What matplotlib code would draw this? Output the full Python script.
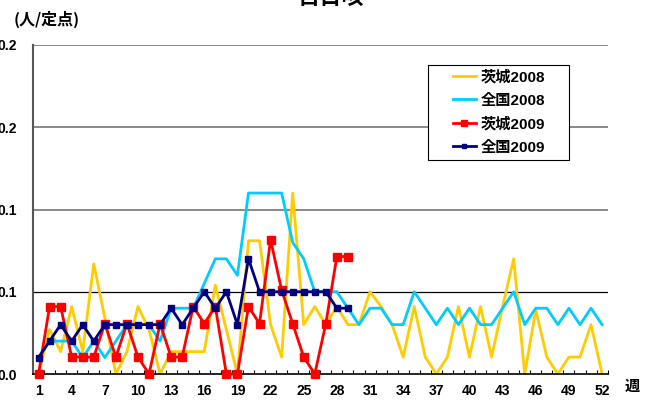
import numpy as np
import matplotlib
matplotlib.use("Agg")
import matplotlib.pyplot as plt
from matplotlib.patches import Rectangle

plt.rcParams['font.family'] = ['Liberation Sans', 'Noto Sans CJK JP']
plt.rcParams['font.weight'] = 'bold'

weeks = np.arange(1, 53)
weeks_2009 = np.arange(1, 30)

ibaraki_2008 = [0, 0.027, 0.0136, 0.041, 0.0136, 0.067, 0.034, 0, 0.0136, 0.041,
                0.027, 0, 0.0136, 0.0136, 0.0136, 0.0136, 0.054, 0.027, 0, 0.081,
                0.081, 0.03, 0.0103, 0.11, 0.03, 0.041, 0.03, 0.041, 0.03, 0.03,
                0.05, 0.041, 0.03, 0.0103, 0.041, 0.0103, 0, 0.0103, 0.041, 0.0103,
                0.041, 0.0103, 0.041, 0.07, 0, 0.039, 0.0103, 0, 0.0103, 0.0103,
                0.03, 0]
zenkoku_2008 = [0.01, 0.02, 0.02, 0.02, 0.01, 0.02, 0.01, 0.02, 0.03, 0.03,
                0.03, 0.02, 0.04, 0.04, 0.04, 0.055, 0.07, 0.07, 0.06, 0.11,
                0.11, 0.11, 0.11, 0.08, 0.07, 0.05, 0.05, 0.05, 0.04, 0.03,
                0.04, 0.04, 0.03, 0.03, 0.05, 0.04, 0.03, 0.04, 0.03, 0.04,
                0.03, 0.03, 0.04, 0.05, 0.03, 0.04, 0.04, 0.03, 0.04, 0.03,
                0.04, 0.03]
ibaraki_2009 = [0, 0.041, 0.041, 0.0103, 0.0103, 0.0103, 0.0306, 0.0103, 0.0306, 0.0103,
                0, 0.0306, 0.0103, 0.0103, 0.041, 0.0306, 0.041, 0, 0, 0.041,
                0.0306, 0.0816, 0.051, 0.0306, 0.0103, 0, 0.0306, 0.0714, 0.0714]
zenkoku_2009 = [0.01, 0.02, 0.03, 0.02, 0.03, 0.02, 0.03, 0.03, 0.03, 0.03,
                0.03, 0.03, 0.04, 0.03, 0.04, 0.05, 0.04, 0.05, 0.03, 0.07,
                0.05, 0.05, 0.05, 0.05, 0.05, 0.05, 0.05, 0.04, 0.04]

y_ticks = [0, 0.05, 0.10, 0.15, 0.20]
y_labels = ['0.0', '0.1', '0.1', '0.2', '0.2']

W, H = 656, 400
fig = plt.figure(figsize=(W / 100, H / 100), dpi=100)
ax = fig.add_axes([33 / W, 26 / H, (607.6 - 33) / W, (374 - 45) / H])

# gridlines
ax.axhline(0.05, color='black', lw=0.9, zorder=0)
for g in (0.10, 0.15, 0.20):
    ax.axhline(g, color='#808080', lw=1.3, zorder=0)

ax.plot(weeks, ibaraki_2008, color='#FFCC00', lw=2, label='茨城2008', zorder=2)
ax.plot(weeks, zenkoku_2008, color='#00CCFF', lw=2, label='全国2008', zorder=2)
ax.plot(weeks_2009, ibaraki_2009, color='#FF0000', lw=2, marker='s', ms=6,
        label='茨城2009', zorder=3, clip_on=False)
ax.plot(weeks_2009, zenkoku_2009, color='#000080', lw=2, marker='s', ms=4.5,
        label='全国2009', zorder=3, clip_on=False)

ax.set_xlim(0.5, 52.5)
ax.set_ylim(0, 0.2)

ax.set_xticks(np.arange(0.5, 53, 1))
ax.set_xticklabels([])
ax.set_xticks(weeks[::3], minor=True)
ax.set_xticklabels([str(w) for w in weeks[::3]], minor=True, fontsize=10)
ax.tick_params(axis='x', which='major', direction='in', length=3, width=0.8)
ax.tick_params(axis='x', which='minor', length=0, pad=7)

ax.set_yticks(y_ticks)
ax.set_yticklabels(y_labels, fontsize=10)
ax.tick_params(axis='y', length=0, pad=11.5)

ax.spines['top'].set_visible(False)
ax.spines['right'].set_visible(False)
ax.spines['left'].set_color('#555555')
ax.spines['left'].set_linewidth(1.5)
ax.spines['bottom'].set_linewidth(1.2)

# legend box
ax.add_patch(Rectangle((428 / W, 1 - 160 / H), 141 / W, 95 / H,
                       transform=fig.transFigure, facecolor='white',
                       edgecolor='black', lw=0.8, zorder=4, clip_on=False))
leg = ax.legend(loc='upper left', bbox_to_anchor=(453 / W, 1 - 70 / H),
                bbox_transform=fig.transFigure, frameon=False, fontsize=11,
                handlelength=1.5, handletextpad=0.3, labelspacing=0.6,
                borderaxespad=0, borderpad=0, markerscale=0.7)
leg.set_zorder(6)

fig.text(331 / W, 1 + 3 / H, '百日咳', ha='center', va='center', fontsize=16,
         family=['Noto Sans CJK JP'])
fig.text(47 / W, 1 - 19 / H, '(人/定点)', ha='center', va='center', fontsize=11.5,
         family=['Noto Sans CJK JP'])
fig.text(632 / W, 1 - 386 / H, '週', ha='center', va='center', fontsize=11,
         family=['Noto Sans CJK JP'])

fig.savefig('out.png', dpi=100)
